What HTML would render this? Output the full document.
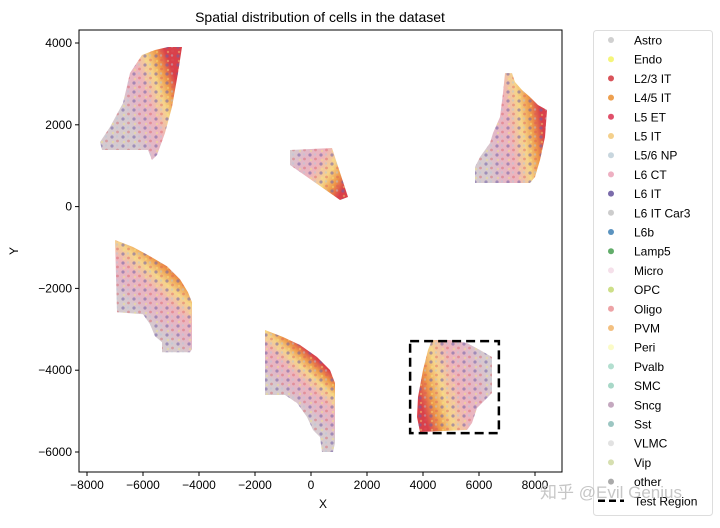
<!DOCTYPE html>
<html><head><meta charset="utf-8"><style>
body{margin:0;background:#fff;}
svg text{font-family:"Liberation Sans","DejaVu Sans",sans-serif;fill:#000;}
</style></head><body>
<svg id="chart" width="720" height="523" viewBox="0 0 720 523" xmlns="http://www.w3.org/2000/svg">
<defs>
<pattern id="dots" width="11" height="9" patternUnits="userSpaceOnUse">
<circle cx="2" cy="2" r="1.6" fill="#6f5fa8" opacity="0.55"/>
<circle cx="7.5" cy="6" r="1.4" fill="#d9535a" opacity="0.4"/>
<circle cx="7" cy="1.5" r="1.2" fill="#b7c9d9" opacity="0.45"/>
<circle cx="3" cy="7" r="1.2" fill="#f6ec7a" opacity="0.4"/>
</pattern>
</defs>
<g id="plot"></g>
<g id="axes"></g>
<g id="legend"></g>
</svg>
<script>
const xTicks=[-8000,-6000,-4000,-2000,0,2000,4000,6000,8000];
const yTicks=[4000,2000,0,-2000,-4000,-6000];
const cellTypes=["Astro","Endo","L2/3 IT","L4/5 IT","L5 ET","L5 IT","L5/6 NP","L6 CT","L6 IT","L6 IT Car3","L6b","Lamp5","Micro","OPC","Oligo","PVM","Peri","Pvalb","SMC","Sncg","Sst","VLMC","Vip","other"];
const typeColors=["#d0d0d0","#f5f57a","#d9535a","#eea04f","#e0506a","#f4d08c","#c8d6de","#eeb0c2","#7b6cab","#cccccc","#5b93bf","#62ad6a","#f5e0ea","#cddf88","#eda3a6","#f3c080","#fbfbc8","#b3dfd0","#a8d8c8","#c4a8bf","#9cc6c2","#e2e2e2","#d6dfb0","#aaaaaa"];
// tissue sections: vertices in data coordinates
const regionNames=["section-top-left","section-center","section-top-right","section-mid-left","section-bottom-center","section-test"];
const regionX=[
 [-5107,-4607,-4750,-4964,-5214,-5500,-5679,-5821,-7464,-7536,-7179,-6714,-6464,-6036,-5571],
 [-750,750,1321,1036,-750],
 [6929,7179,7286,7536,7821,8107,8429,8357,8179,8000,7821,5857,5857,6036,6393,6500,6750,6857],
 [-7000,-6357,-5750,-5143,-4679,-4393,-4250,-4250,-4321,-5321,-5321,-5571,-5750,-6000,-6929],
 [-1643,-1000,-393,214,679,857,857,786,393,321,71,-143,-500,-929,-1643],
 [4321,4964,5571,6036,6464,6464,6143,5929,5750,5571,3893,3786,3821,4000,4179]
];
const regionY=[
 [3902,3902,3267,2436,1800,1262,1139,1384,1384,1580,1946,2533,3267,3707,3829],
 [1384,1433,235,161,1017],
 [3265,3265,3047,2851,2680,2484,2362,1702,1139,724,577,577,968,1213,1555,1800,2191,2778],
 [-817,-988,-1213,-1457,-1775,-2093,-2338,-3487,-3560,-3560,-3315,-3169,-2875,-2630,-2582],
 [-3017,-3188,-3384,-3677,-3995,-4313,-5780,-6000,-6000,-5633,-5462,-5144,-4802,-4606,-4606],
 [-3261,-3261,-3334,-3506,-3677,-4557,-4778,-4924,-5291,-5462,-5511,-5144,-4655,-3995,-3506]
];
// layer gradient axis (outer -> inner) per section, data coords
const gradStartX=[-4700,1200,8350,-4857,250,3893];
const gradStartY=[2853,500,1629,-1428,-3751,-4729];
const gradEndX=[-6643,-700,6214,-6286,-929,6393];
const gradEndY=[2362,1300,1384,-2529,-4606,-4240];
const layerColors=["#d9404a","#ee9a4a","#f6d48a","#eeb4bc","#e2b8c8","#d6cacf"];
const layerStops=[0,0.16,0.33,0.55,0.8,1];
const testBoxX=[3540,6710];const testBoxY=[-3290,-5540];

const L=79,R=562,T=30,B=472;
const X=v=>311+v*0.028;
const Y=v=>206.6-v*0.0409;
const NS="http://www.w3.org/2000/svg";
function mk(tag,attrs,parent){const e=document.createElementNS(NS,tag);for(const k in attrs)e.setAttribute(k,attrs[k]);parent.appendChild(e);return e;}
const svg=document.getElementById('chart'),defs=svg.querySelector('defs');
const plot=document.getElementById('plot'),axes=document.getElementById('axes'),leg=document.getElementById('legend');

regionX.forEach((xs,i)=>{
 const g=mk('linearGradient',{id:'g'+i,gradientUnits:'userSpaceOnUse',x1:X(gradStartX[i]),y1:Y(gradStartY[i]),x2:X(gradEndX[i]),y2:Y(gradEndY[i])},defs);
 layerColors.forEach((c,j)=>mk('stop',{offset:layerStops[j],'stop-color':c},g));
 const pts=xs.map((x,k)=>X(x).toFixed(1)+','+Y(regionY[i][k]).toFixed(1)).join(' ');
 const p=mk('polygon',{points:pts,fill:'url(#g'+i+')'},plot);
 
 
 const d=mk('polygon',{points:pts,fill:'url(#dots)'},plot);
 
 
});
const box=mk('rect',{x:X(testBoxX[0]),y:Y(testBoxY[0]),width:X(testBoxX[1])-X(testBoxX[0]),height:Y(testBoxY[1])-Y(testBoxY[0]),fill:'none',stroke:'#000','stroke-width':2.5,'stroke-dasharray':'9,5'},plot);



const frame=mk('rect',{x:L,y:T,width:R-L,height:B-T,fill:'none',stroke:'#000','stroke-width':1},axes);


xTicks.forEach(v=>{
 mk('line',{x1:X(v),x2:X(v),y1:B,y2:B+4,stroke:'#000'},axes);
 const t=mk('text',{x:X(v),y:B+17,'text-anchor':'middle','font-size':12},axes);
 t.textContent=String(v).replace('-','−');
 
 
});
yTicks.forEach(v=>{
 mk('line',{x1:L-4,x2:L,y1:Y(v),y2:Y(v),stroke:'#000'},axes);
 const t=mk('text',{x:L-7,y:Y(v)+4,'text-anchor':'end','font-size':12},axes);
 t.textContent=String(v).replace('-','−');
 
 
});
let t=mk('text',{x:320,y:22,'text-anchor':'middle','font-size':14},axes);t.textContent='Spatial distribution of cells in the dataset';

t=mk('text',{x:323,y:508,'text-anchor':'middle','font-size':12},axes);t.textContent='X';

t=mk('text',{x:18,y:251,'text-anchor':'middle','font-size':12,transform:'rotate(-90 18 251)'},axes);t.textContent='Y';


const lb=mk('rect',{x:593.5,y:30.5,width:119,height:485,rx:3,fill:'#fff',stroke:'#ddd'},leg);


cellTypes.forEach((n,i)=>{
 const y=40+i*19.2;
 mk('circle',{cx:611,cy:y,r:3,fill:typeColors[i]},leg);
 const tx=mk('text',{x:634,y:y+4.5,'font-size':12},leg);tx.textContent=n;
 
 
});
const ly=40+24*19.2;
mk('line',{x1:598,x2:624,y1:ly,y2:ly,stroke:'#000','stroke-width':2.5,'stroke-dasharray':'7,4'},leg);
const tr=mk('text',{x:634,y:ly+4.5,'font-size':12},leg);tr.textContent='Test Region';


const wm=mk('text',{x:540,y:498,'font-size':17,style:'font-family:"Liberation Sans","Noto Sans CJK SC",sans-serif;fill:#b8b8b8;opacity:0.8'},leg);wm.textContent='知乎 @Evil Genius';


</script>
</body></html>
